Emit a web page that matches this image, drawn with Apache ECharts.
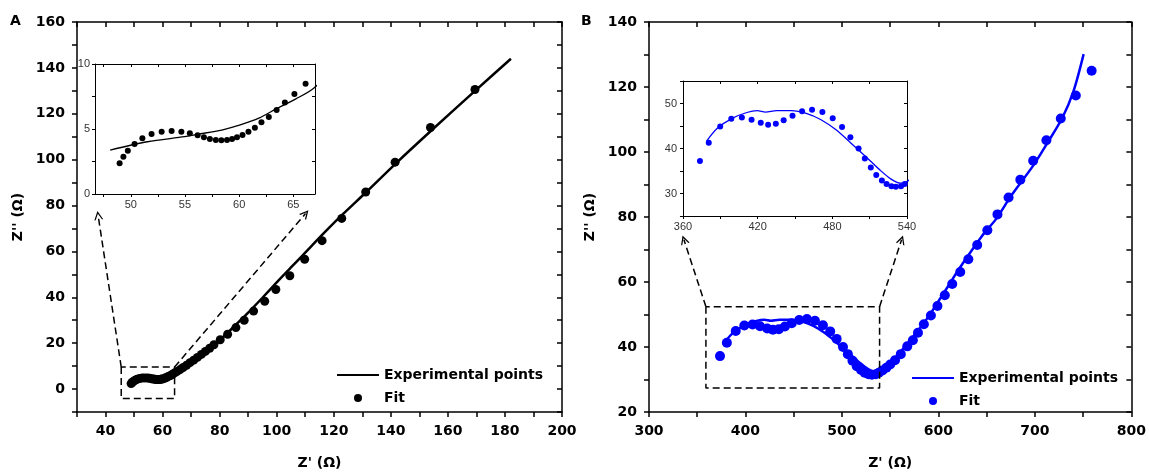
<!DOCTYPE html>
<html>
<head>
<meta charset="utf-8">
<script src="https://cdn.jsdelivr.net/npm/echarts@6/dist/echarts.min.js"></script>
<style>
  html, body { margin: 0; padding: 0; background: #fff; }
  #main_echart { width: 1149px; height: 475px; }
</style>
</head>
<body>
<div id="main_echart"></div>
<script>
// panel A  -  [Z', Z''] pairs
const fitA = [
  [48.97, 2.37], [49.32, 2.86], [49.73, 3.32], [50.35, 3.84], [51.07, 4.28], [51.92, 4.61],
  [52.85, 4.79], [53.77, 4.85], [54.67, 4.79], [55.45, 4.67], [56.17, 4.51], [56.75, 4.36],
  [57.3, 4.23], [57.85, 4.15], [58.36, 4.13], [58.88, 4.15], [59.35, 4.23], [59.8, 4.36],
  [60.31, 4.54], [60.86, 4.79], [61.45, 5.1], [62.06, 5.52], [62.74, 5.93], [63.46, 6.47],
  [64.22, 7.03], [65.1, 7.7], [66.13, 8.48], [67.2, 9.4], [68.4, 10.4], [69.6, 11.5],
  [70.9, 12.6], [72.2, 13.8], [73.6, 15.1], [75, 16.4], [76.5, 17.8], [78, 19.3],
  [80.2, 21.5], [82.8, 23.9], [85.7, 26.8], [88.6, 30], [91.9, 34], [95.8, 38.3],
  [99.7, 43.4], [104.6, 49.4], [109.8, 56.6], [115.9, 64.7], [122.8, 74.4], [131.2, 85.9],
  [141.5, 98.9], [153.9, 114], [169.5, 130.6]
];
const expA = [
  [48.1, 3.38], [51.54, 4.02], [54.97, 4.41], [56.17, 4.59], [58.4, 4.92], [60.1, 5.31],
  [61.82, 5.83], [63.53, 6.6], [65.24, 7.32], [66.88, 8.14], [70, 10.6], [75, 15.6],
  [80, 21.2], [85, 27.2], [90, 33.3], [95, 39.8], [100, 46.5], [105, 53], [110, 59.5],
  [117.2, 68.8], [123, 76], [131.5, 86], [141.8, 98.4], [154.3, 112.8], [170, 130.5], [182.1, 144]
];

// panel B
const fitB = [
  [373.6, 37.2], [380.7, 41.3], [389.9, 44.9], [398.8, 46.6], [407.3, 46.9], [415.1, 46.4],
  [422.5, 45.7], [428.4, 45.3], [434.6, 45.5], [440.9, 46.3], [448, 47.3], [455.7, 48.3],
  [463.7, 48.6], [472, 48.1], [480.3, 46.7], [487.8, 44.8], [494.5, 42.5], [501.1, 40],
  [506.1, 37.8], [510.9, 35.8], [515.3, 34.1], [519.8, 32.9], [523.6, 32.1], [527.5, 31.6],
  [531, 31.5], [535.2, 31.6], [538.2, 32.1], [542, 32.8], [546, 33.6], [550, 34.6],
  [555, 35.9], [561, 37.8], [567.7, 40.2], [573.5, 42.1], [578.8, 44.4], [584.9, 47],
  [592.2, 49.7], [599, 52.6], [606.6, 55.9], [614.3, 59.4], [622.6, 63.1], [631, 67],
  [640.2, 71.4], [650.7, 75.9], [661.2, 80.8], [672.7, 86], [684.9, 91.5], [698.2, 97.3],
  [711.9, 103.6], [726.8, 110.3], [742.4, 117.4], [758.8, 125]
];
const expB = [
  [378.8, 41.6], [387.6, 44.5], [399.5, 46.7], [411.3, 48], [419.7, 48.4], [426.3, 48.1],
  [435.2, 48.4], [447.1, 48.4], [459, 47.8], [470.9, 46.4], [482.7, 44.2], [494.6, 41.3],
  [506.5, 38.3], [518.3, 35.2], [527.2, 33.2], [534.7, 32.3], [539.1, 32.5], [550, 35],
  [560, 38.3], [570, 41.8], [580, 45.5], [590, 49.5], [599, 53.6], [610, 58.7], [622, 64.3],
  [644.8, 74], [660, 79.5], [675.3, 86.5], [698.2, 95.8], [713.4, 103], [728.6, 110.6],
  [740, 118.7], [750.5, 130.1]
];

// zoom boxes and arrows (data coords)
const boxA = [[45.5, 9.6], [45.5, -4.1], [64.2, -4.1], [64.2, 9.6], [45.5, 9.6]];
const arrowsA = [[[45.5, 9.6], [37.4, 75.7]], [[64.2, 9.6], [110.1, 76.5]]];
const boxB = [[359, 52.4], [359, 27.4], [539, 27.4], [539, 52.4], [359, 52.4]];
const arrowsB = [[[359, 52.4], [336.2, 73]], [[539, 52.4], [561.8, 73]]];

// tick / label values
const insetATicks = [47.5, 50, 52.5, 55, 57.5, 60, 62.5, 65];
const insetALabels = [50, 55, 60, 65];

const legendText = { expA: "Experimental points", fitA: "Fit", expB: "Experimental points", fitB: "Fit" };

const BOLD = { fontFamily: "DejaVu Sans", fontWeight: "bold", fontSize: 14, color: "#000" };
const SMALL = { fontFamily: "Liberation Sans", fontSize: 11, color: "#333" };
const ARROW = "path://M5,0L10,9L8.5,9L5,2.8L1.5,9L0,9Z";

function axis(o) {
  let a = {
    type: "value",
    gridIndex: o.grid,
    position: o.pos,
    min: o.min,
    max: o.max,
    interval: o.interval,
    axisLine: { show: true, onZero: false, lineStyle: { color: "#000", width: o.inset ? 1 : 1.5 } },
    axisTick: {
      show: true,
      inside: !!o.mirror,
      length: o.inset ? 3 : 5,
      lineStyle: { color: "#000", width: o.inset ? 1 : 1.5 }
    },
    axisLabel: { show: false },
    splitLine: { show: false }
  };
  if (o.ticks) a.axisTick.customValues = o.ticks;
  if (!o.mirror) {
    a.axisLabel = Object.assign({}, o.inset ? SMALL : BOLD, {
      show: true,
      margin: o.margin,
      formatter: o.fmt
    });
    if (o.labels) a.axisLabel.customValues = o.labels;
  }
  if (o.name) {
    a.name = o.name;
    a.nameLocation = "middle";
    a.nameGap = o.nameGap;
    a.nameTextStyle = Object.assign({}, BOLD);
  }
  return a;
}

const every = step => v => (Math.abs(v % step) < 1e-6 ? String(v) : "");

function legendFor(names, left, top) {
  return {
    left: left, top: top, orient: "vertical", padding: 0, itemGap: 9,
    itemWidth: 42, itemHeight: 8, selectedMode: false,
    // hide the circle ECharts puts in the middle of a line icon
    data: [{ name: names[0], itemStyle: { opacity: 0 } }, names[1]],
    formatter: n => legendText[n],
    textStyle: BOLD
  };
}

let myChart = echarts.init(document.getElementById("main_echart"));
myChart.setOption({
  animation: false,
  backgroundColor: "#fff",
  grid: [
    { left: 77, top: 22, width: 485, height: 393 },
    { left: 95, top: 64, width: 220, height: 130, show: true, backgroundColor: "#fff", borderWidth: 0 },
    { left: 649, top: 22, width: 485, height: 393 },
    { left: 683, top: 81, width: 224, height: 135, show: true, backgroundColor: "#fff", borderWidth: 0 }
  ],
  xAxis: [
    axis({ grid: 0, pos: "bottom", min: 30, max: 200, interval: 10, margin: 12, fmt: every(20), name: "Z' (Ω)", nameGap: 44 }),
    axis({ grid: 0, pos: "top", min: 30, max: 200, interval: 10, mirror: true }),
    axis({ grid: 1, pos: "bottom", min: 46.7, max: 67, inset: true, margin: 5, ticks: insetATicks, labels: insetALabels }),
    axis({ grid: 1, pos: "top", min: 46.7, max: 67, inset: true, mirror: true, ticks: insetATicks }),
    axis({ grid: 2, pos: "bottom", min: 300, max: 800, interval: 50, margin: 12, fmt: every(100), name: "Z' (Ω)", nameGap: 44 }),
    axis({ grid: 2, pos: "top", min: 300, max: 800, interval: 50, mirror: true }),
    axis({ grid: 3, pos: "bottom", min: 360, max: 540, interval: 30, inset: true, margin: 5, fmt: every(60) }),
    axis({ grid: 3, pos: "top", min: 360, max: 540, interval: 30, inset: true, mirror: true })
  ],
  yAxis: [
    axis({ grid: 0, pos: "left", min: -10, max: 160, interval: 10, margin: 12, fmt: every(20), name: "Z'' (Ω)", nameGap: 52 }),
    axis({ grid: 0, pos: "right", min: -10, max: 160, interval: 10, mirror: true }),
    axis({ grid: 1, pos: "left", min: 0, max: 10, interval: 2.5, inset: true, margin: 5, fmt: every(5) }),
    axis({ grid: 1, pos: "right", min: 0, max: 10, interval: 2.5, inset: true, mirror: true }),
    axis({ grid: 2, pos: "left", min: 20, max: 140, interval: 10, margin: 12, fmt: every(20), name: "Z'' (Ω)", nameGap: 52 }),
    axis({ grid: 2, pos: "right", min: 20, max: 140, interval: 10, mirror: true }),
    axis({ grid: 3, pos: "left", min: 25, max: 55, interval: 5, inset: true, margin: 6, fmt: every(10) }),
    axis({ grid: 3, pos: "right", min: 25, max: 55, interval: 5, inset: true, mirror: true })
  ],
  legend: [
    legendFor(["expA", "fitA"], 336, 368),
    legendFor(["expB", "fitB"], 911, 371)
  ],
  graphic: [
    { type: "text", left: 10, top: 14, style: { text: "A", fill: "#000", font: "bold 14px 'DejaVu Sans'" } },
    { type: "text", left: 581, top: 14, style: { text: "B", fill: "#000", font: "bold 14px 'DejaVu Sans'" } }
  ],
  series: [
    // ---- panel A
    {
      name: "expA", type: "line", xAxisIndex: 0, yAxisIndex: 0, data: expA,
      symbol: "none", smooth: 0.3, lineStyle: { color: "#000", width: 2.5 }, itemStyle: { color: "#000" }
    },
    {
      name: "fitA", type: "scatter", xAxisIndex: 0, yAxisIndex: 0, data: fitA,
      symbol: "circle", symbolSize: 9, itemStyle: { color: "#000", opacity: 1 }
    },
    {
      name: "boxA", type: "line", xAxisIndex: 0, yAxisIndex: 0, data: boxA,
      symbol: "none", lineStyle: { color: "#000", width: 1.5, type: [7, 4] },
      markLine: {
        silent: true, symbol: ["none", ARROW], symbolSize: [9, 9],
        label: { show: false },
        lineStyle: { color: "#000", width: 1.5, type: [7, 4] },
        data: arrowsA.map(a => [{ coord: a[0] }, { coord: a[1] }])
      }
    },
    {
      name: "insetExpA", type: "line", xAxisIndex: 2, yAxisIndex: 2, data: expA,
      symbol: "none", smooth: 0.3, lineStyle: { color: "#000", width: 1.3 }
    },
    {
      name: "insetFitA", type: "scatter", xAxisIndex: 2, yAxisIndex: 2, data: fitA,
      symbolSize: 6, itemStyle: { color: "#000", opacity: 1 }
    },
    // ---- panel B
    {
      name: "expB", type: "line", xAxisIndex: 4, yAxisIndex: 4, data: expB,
      symbol: "none", smooth: 0.3, lineStyle: { color: "#0000ff", width: 2.5 }, itemStyle: { color: "#0000ff" }
    },
    {
      name: "fitB", type: "scatter", xAxisIndex: 4, yAxisIndex: 4, data: fitB,
      symbol: "circle", symbolSize: 10, itemStyle: { color: "#0000ff", opacity: 1 }
    },
    {
      name: "boxB", type: "line", xAxisIndex: 4, yAxisIndex: 4, data: boxB,
      symbol: "none", lineStyle: { color: "#000", width: 1.5, type: [7, 4] },
      markLine: {
        silent: true, symbol: ["none", ARROW], symbolSize: [9, 9],
        label: { show: false },
        lineStyle: { color: "#000", width: 1.5, type: [7, 4] },
        data: arrowsB.map(a => [{ coord: a[0] }, { coord: a[1] }])
      }
    },
    {
      name: "insetExpB", type: "line", xAxisIndex: 6, yAxisIndex: 6, data: expB,
      symbol: "none", smooth: 0.3, lineStyle: { color: "#0000ff", width: 1.3 }
    },
    {
      name: "insetFitB", type: "scatter", xAxisIndex: 6, yAxisIndex: 6, data: fitB,
      symbolSize: 6, itemStyle: { color: "#0000ff", opacity: 1 }
    }
  ]
});
</script>
</body>
</html>
